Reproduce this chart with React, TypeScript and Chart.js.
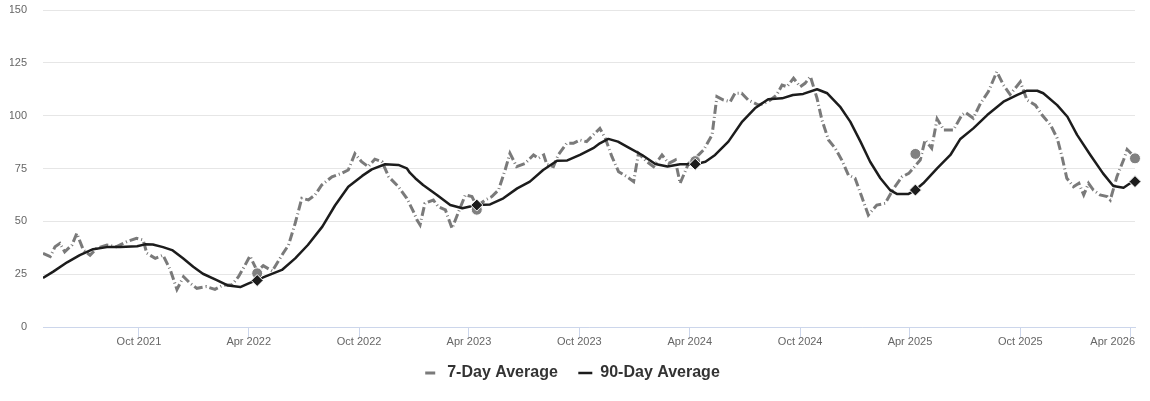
import React, { useEffect, useRef } from "react";
import { Chart, registerables } from "chart.js";

Chart.register(...registerables);

const FONT = "'Liberation Sans', Arial, Helvetica, sans-serif";

// ---- Data ----
const axisStart = "2021-04-25";
const axisEnd = "2026-04-09";

const tickDates = [
  "2021-10-01", "2022-04-01", "2022-10-01", "2023-04-01", "2023-10-01",
  "2024-04-01", "2024-10-01", "2025-04-01", "2025-10-01", "2026-04-01",
];
const tickLabels = [
  "Oct 2021", "Apr 2022", "Oct 2022", "Apr 2023", "Oct 2023",
  "Apr 2024", "Oct 2024", "Apr 2025", "Oct 2025", "Apr 2026",
];
const yTicks = [0, 25, 50, 75, 100, 125, 150];

const sevenDayDates = [
  "2021-04-25", "2021-05-07", "2021-05-15", "2021-05-23", "2021-05-31", "2021-06-12", "2021-06-20",
  "2021-07-01", "2021-07-12", "2021-07-23", "2021-08-09", "2021-08-25", "2021-09-11", "2021-09-27",
  "2021-10-08", "2021-10-14", "2021-10-28", "2021-11-10", "2021-11-22", "2021-12-03", "2021-12-14",
  "2021-12-25", "2022-01-05", "2022-01-21", "2022-02-04", "2022-02-18", "2022-03-04", "2022-03-15",
  "2022-03-26", "2022-04-03", "2022-04-15", "2022-04-25", "2022-05-10", "2022-05-28", "2022-06-06",
  "2022-06-17", "2022-06-28", "2022-07-09", "2022-07-20", "2022-07-31", "2022-08-17", "2022-09-02",
  "2022-09-13", "2022-09-24", "2022-10-05", "2022-10-16", "2022-10-27", "2022-11-08", "2022-11-19",
  "2022-12-05", "2022-12-19", "2022-12-30", "2023-01-05", "2023-01-10", "2023-01-18", "2023-02-01",
  "2023-02-09", "2023-02-21", "2023-03-04", "2023-03-26", "2023-04-06", "2023-04-14", "2023-04-28",
  "2023-05-09", "2023-05-20", "2023-05-31", "2023-06-08", "2023-06-19", "2023-07-03", "2023-07-17",
  "2023-07-25", "2023-08-03", "2023-08-08", "2023-08-19", "2023-08-27", "2023-09-10", "2023-09-21",
  "2023-10-02", "2023-10-13", "2023-10-24", "2023-11-04", "2023-11-13", "2023-11-24", "2023-12-05",
  "2023-12-19", "2023-12-30", "2024-01-07", "2024-01-21", "2024-02-01", "2024-02-15", "2024-02-26",
  "2024-03-08", "2024-03-16", "2024-03-30", "2024-04-10", "2024-04-24", "2024-05-08", "2024-05-16",
  "2024-05-27", "2024-06-07", "2024-06-15", "2024-06-26", "2024-07-07", "2024-07-24", "2024-08-09",
  "2024-08-23", "2024-09-01", "2024-09-09", "2024-09-20", "2024-10-01", "2024-10-09", "2024-10-18",
  "2024-10-29", "2024-11-06", "2024-11-17", "2024-11-28", "2024-12-09", "2024-12-20", "2024-12-31",
  "2025-01-11", "2025-01-22", "2025-02-05", "2025-02-19", "2025-03-05", "2025-03-19", "2025-03-30",
  "2025-04-18", "2025-04-26", "2025-05-07", "2025-05-16", "2025-05-27", "2025-06-12", "2025-06-26",
  "2025-07-02", "2025-07-15", "2025-07-27", "2025-08-09", "2025-08-23", "2025-09-03", "2025-09-14",
  "2025-10-01", "2025-10-12", "2025-10-26", "2025-11-06", "2025-11-20", "2025-12-01", "2025-12-09",
  "2025-12-17", "2025-12-28", "2026-01-06", "2026-01-14", "2026-01-22", "2026-01-30", "2026-02-10",
  "2026-02-22", "2026-02-27", "2026-03-10", "2026-03-21", "2026-03-27", "2026-04-03",
];
const sevenDayValues = [
  34.9, 33.3, 38, 39.6, 35.6, 38.8, 44.3,
  36.4, 34, 37.2, 38.8, 38, 40.4, 42,
  41.2, 34.9, 32.5, 34, 27, 17.8, 23.8,
  20.7, 18.3, 19.1, 17.8, 19.9, 19.9, 23.8,
  29.3, 33.6, 26.5, 29, 26.5, 34.9, 38.8,
  49.1, 60.9, 60.1, 62.5, 67.2, 71.1, 72.7,
  74.3, 82, 78.2, 75.9, 79.4, 78.2, 71.1,
  66.4, 60.9, 54.6, 50.6, 48.3, 58.5, 60.1,
  56.9, 55.4, 46.7, 62.5, 61.7, 57, 60.1,
  61.7, 64.8, 74.3, 82.2, 75.9, 77.4, 81.4,
  79.8, 81.4, 77, 75.9, 81.4, 86.9, 86.9,
  88.5, 87.7, 90.9, 94, 89.3, 80.6, 73.5,
  71.1, 68.8, 82.2, 78.2, 75.9, 81.4, 77.4,
  79, 68, 77.4, 79.8, 83.8, 90.9, 109,
  107.4, 106.6, 110.6, 110.6, 107.4, 105, 106.6,
  109.8, 114.5, 113.7, 117.7, 113.7, 115.3, 118.5,
  108.2, 98, 88.5, 84.6, 79, 71.9, 70.4,
  61.7, 53, 57.7, 58.5, 65.6, 71.1, 72.7,
  79, 88.5, 84.6, 98.5, 93.2, 93.2, 100.3,
  101.5, 98.8, 105.9, 111.4, 120.8, 114.5, 110,
  116, 107.4, 105, 100.3, 95.6, 89.3, 80.6,
  70.4, 66.4, 68, 62.5, 68, 64.8, 62.5,
  61.7, 60.1, 71.1, 79, 84, 82,
];

const ninetyDayDates = [
  "2021-04-25", "2021-05-12", "2021-06-04", "2021-06-25", "2021-07-17", "2021-08-09", "2021-08-31",
  "2021-09-28", "2021-10-11", "2021-10-24", "2021-11-10", "2021-11-25", "2021-12-13", "2021-12-30",
  "2022-01-15", "2022-02-07", "2022-02-26", "2022-03-18", "2022-03-31", "2022-04-15", "2022-04-28",
  "2022-05-26", "2022-06-17", "2022-07-08", "2022-08-01", "2022-08-22", "2022-09-13", "2022-10-06",
  "2022-10-22", "2022-11-13", "2022-12-05", "2022-12-19", "2022-12-24", "2023-01-02", "2023-01-15",
  "2023-02-07", "2023-03-01", "2023-03-21", "2023-04-14", "2023-05-06", "2023-05-28", "2023-06-20",
  "2023-07-11", "2023-08-02", "2023-08-25", "2023-09-11", "2023-10-02", "2023-10-24", "2023-11-04",
  "2023-11-18", "2023-12-04", "2023-12-21", "2024-01-13", "2024-02-04", "2024-02-24", "2024-03-16",
  "2024-04-10", "2024-04-27", "2024-05-13", "2024-06-04", "2024-06-27", "2024-07-18", "2024-08-09",
  "2024-09-01", "2024-09-19", "2024-10-06", "2024-10-29", "2024-11-15", "2024-12-06", "2024-12-23",
  "2025-01-09", "2025-01-25", "2025-02-11", "2025-02-27", "2025-03-11", "2025-03-29", "2025-04-10",
  "2025-04-23", "2025-05-16", "2025-06-07", "2025-06-23", "2025-07-15", "2025-08-07", "2025-09-03",
  "2025-09-26", "2025-10-12", "2025-10-29", "2025-11-08", "2025-12-01", "2025-12-18", "2026-01-03",
  "2026-01-25", "2026-02-15", "2026-03-04", "2026-03-21", "2026-04-01", "2026-04-09",
];
const ninetyDayValues = [
  23.2, 26.2, 30.6, 34, 36.8, 37.8, 37.8,
  38.2, 39.1, 39, 37.8, 36.4, 32.5, 28.5,
  25.2, 22.2, 19.6, 18.9, 20.5, 22.3, 23.8,
  27, 32.5, 38.8, 47.5, 57.5, 66.4, 71.5,
  74.6, 77, 76.7, 75.1, 73, 70.4, 67.2,
  62.5, 57.7, 56.2, 57.7, 58, 60.9, 65.6,
  68.8, 74.3, 78.7, 78.8, 81.4, 84.6, 86.9,
  89, 87.7, 85, 81.4, 77.1, 75.9, 77,
  77, 78.2, 81.4, 87.7, 97.2, 103.5, 107.8,
  108.2, 109.8, 110.3, 112.5, 110.6, 104.3, 97.2,
  87.7, 78.2, 70.4, 64.8, 62.9, 62.9, 64.8,
  68, 75.1, 81.4, 88.8, 94, 100.3, 106.6,
  109.8, 111.8, 111.8, 110.6, 105, 99.5, 90.9,
  81.4, 72.7, 66.7, 65.9, 68, 68.8,
];

const markerDates = ["2022-04-15", "2023-04-14", "2024-04-10", "2025-04-10", "2026-04-09"];
const sevenDayMarkerValues = [25.4, 55.5, 78.5, 81.9, 79.8];
const ninetyDayMarkerValues = [22.0, 57.7, 77.0, 64.8, 68.8];

// ---- helpers ----
const toDay = (s: string) => {
  const [y, m, d] = s.split("-").map(Number);
  return Date.UTC(y, m - 1, d) / 86400000;
};
const pairs = (dates: string[], values: number[]) =>
  dates.map((d, i) => ({ x: toDay(d), y: values[i] }));

export default function App() {
  const ref = useRef<HTMLCanvasElement | null>(null);

  useEffect(() => {
    const canvas = ref.current;
    if (!canvas) return;
    Chart.defaults.font.family = FONT;

    const xMin = toDay(axisStart);
    const xMax = toDay(axisEnd);
    const tickValues = [xMin, ...tickDates.map(toDay), xMax];
    const tickText = ["", ...tickLabels.slice(0, -1), "", tickLabels[tickLabels.length - 1]];
    const lastIdx = tickValues.length - 1;

    const chart = new Chart(canvas, {
      type: "line",
      data: {
        datasets: [
          {
            label: "7-Day Average",
            data: pairs(sevenDayDates, sevenDayValues),
            borderColor: "#7a7a7a",
            backgroundColor: "#7a7a7a",
            borderWidth: 3,
            borderDash: [9, 3, 1, 3],
            pointRadius: 0,
            tension: 0,
            fill: false,
            order: 3,
          },
          {
            label: "90-Day Average",
            data: pairs(ninetyDayDates, ninetyDayValues),
            borderColor: "#1c1c1c",
            backgroundColor: "#1c1c1c",
            borderWidth: 2.5,
            pointRadius: 0,
            tension: 0,
            fill: false,
            borderJoinStyle: "round",
            order: 2,
          },
          {
            label: "7-Day marker",
            data: pairs(markerDates, sevenDayMarkerValues),
            showLine: false,
            clip: false,
            pointStyle: "circle",
            pointRadius: 5.5,
            pointBackgroundColor: "#808080",
            pointBorderColor: "#ffffff",
            pointBorderWidth: 1,
            order: 1,
          },
          {
            label: "90-Day marker",
            data: pairs(markerDates, ninetyDayMarkerValues),
            showLine: false,
            clip: false,
            pointStyle: "rectRot",
            pointRadius: 6,
            pointBackgroundColor: "#1c1c1c",
            pointBorderColor: "#ffffff",
            pointBorderWidth: 1,
            order: 0,
          },
        ],
      },
      options: {
        responsive: false,
        animation: false,
        events: [],
        layout: { padding: { left: 10, right: 15, top: 10, bottom: 10 } },
        scales: {
          x: {
            type: "linear",
            min: xMin,
            max: xMax,
            afterBuildTicks: (scale: any) => {
              scale.ticks = tickValues.map((v) => ({ value: v }));
            },
            afterFit: (scale: any) => {
              scale.height = 17.5;
              scale._computeLabelArea = () => undefined;
            },
            ticks: {
              align: "inner",
              autoSkip: false,
              maxRotation: 0,
              minRotation: 0,
              padding: -1.5,
              color: "#666666",
              font: { size: 11, family: FONT },
              callback: (_v: any, i: number) => tickText[i],
            },
            grid: {
              drawOnChartArea: false,
              drawTicks: true,
              tickLength: 10,
              tickWidth: 1,
              tickColor: (ctx: any) =>
                ctx.index === 0 || ctx.index === lastIdx ? "rgba(0,0,0,0)" : "#ccd6eb",
            },
            border: { display: true, color: "#ccd6eb", width: 1 },
          },
          y: {
            type: "linear",
            min: 0,
            max: 150,
            afterBuildTicks: (scale: any) => {
              scale.ticks = yTicks.map((v) => ({ value: v }));
            },
            afterFit: (scale: any) => {
              scale.width = 33;
            },
            ticks: {
              padding: 2,
              color: "#666666",
              font: { size: 11, family: FONT },
            },
            grid: {
              color: "#e6e6e6",
              lineWidth: 1,
              drawTicks: true,
              tickLength: 14,
              tickColor: "rgba(0,0,0,0)",
            },
            border: { display: false },
          },
        },
        plugins: {
          tooltip: { enabled: false },
          legend: {
            position: "bottom",
            labels: {
              usePointStyle: true,
              pointStyle: "line",
              pointStyleWidth: 14,
              padding: 20.5,
              color: "#333333",
              font: { size: 16, weight: "bold", family: FONT },
              generateLabels: (c: any) => {
                const items = (Chart.defaults.plugins.legend.labels as any).generateLabels(c);
                items.forEach((it: any) => {
                  it.pointStyle = "line";
                  if (it.datasetIndex === 0) it.lineDash = [10, 100];
                });
                return items;
              },
              filter: (item: any) => item.datasetIndex < 2,
              sort: (a: any, b: any) => a.datasetIndex - b.datasetIndex,
            },
          },
        },
      } as any,
    });
    return () => chart.destroy();
  }, []);

  return (
    <div style={{ position: "absolute", left: 0, top: 0, width: 1150, height: 401, background: "#ffffff" }}>
      <canvas ref={ref} width={1150} height={401} style={{ display: "block", width: 1150, height: 401 }} />
    </div>
  );
}
